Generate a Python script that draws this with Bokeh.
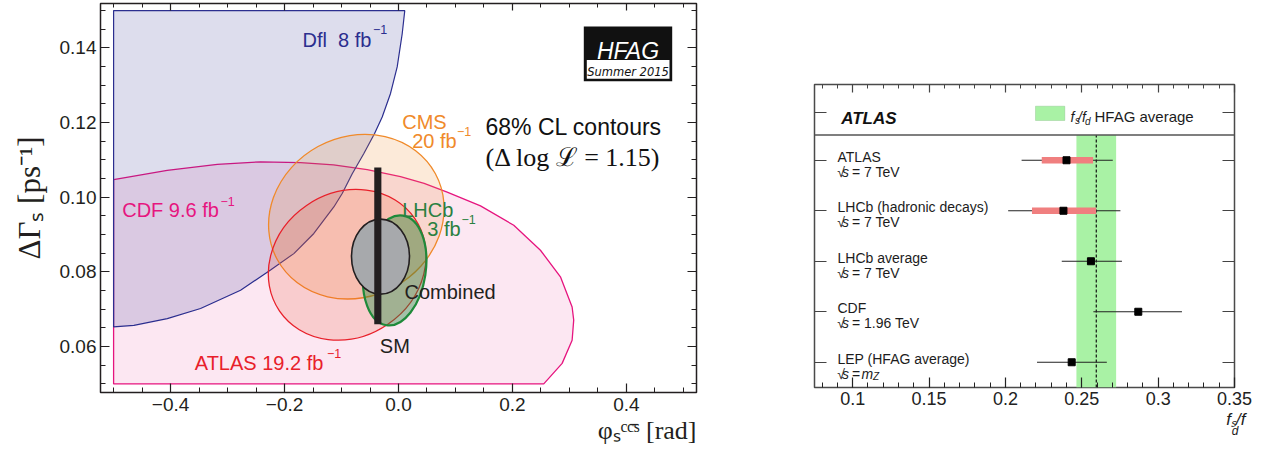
import math
from bokeh.plotting import figure
from bokeh.models import (Range1d, FixedTicker, LinearAxis, Label, BoxAnnotation,
                          Span, ColumnDataSource, Title)
from bokeh.layouts import row
from bokeh.embed import file_html
from bokeh.resources import INLINE

# ===================== LEFT PANEL DATA (68% CL contours) =====================
# Dfl region (boundary)
dfl_phi = [-0.5, 0.011, 0.0065, -0.0023, -0.014, -0.0286, -0.042, -0.0608, -0.0812,
           -0.0988, -0.1135, -0.1486, -0.1837, -0.2246, -0.2772, -0.3474, -0.4058,
           -0.4644, -0.5]
dfl_dgs = [0.150, 0.150, 0.1438, 0.1349, 0.1278, 0.1215, 0.1171, 0.1117, 0.1063,
           0.1010, 0.0974, 0.0903, 0.0849, 0.0805, 0.0751, 0.0702, 0.0675,
           0.0657, 0.0653]
# CDF region
cdf_phi = [-0.5, -0.5, -0.406, -0.318, -0.242, -0.172, -0.114, -0.055, 0.0035, 0.045,
           0.0854, 0.1439, 0.2023, 0.2491, 0.2842, 0.3047, 0.3075, 0.3047, 0.2872, 0.2549]
cdf_dgs = [0.050, 0.1047, 0.1072, 0.1088, 0.1095, 0.1093, 0.1087, 0.1074, 0.1055, 0.1037,
           0.1014, 0.0977, 0.0925, 0.0858, 0.0787, 0.0706, 0.0671, 0.0617, 0.0555, 0.050]
# Elliptical contours: CMS, ATLAS, LHCb, Combined
ell_name = ["CMS", "ATLAS", "LHCb", "Combined"]
ell_phi = [-0.074, -0.090, -0.0067, -0.0316]
ell_dgs = [0.0948, 0.0819, 0.0804, 0.0841]
ell_w = [0.3158, 0.2877, 0.1088, 0.1018]
ell_h = [0.04284, 0.03855, 0.0297, 0.0201]
ell_angle = [0.5, 0.6, -0.15, 0.0]
# Standard Model prediction
sm_phi = [-0.0363]
sm_lo = [0.066]
sm_hi = [0.108]

x_ticks = [-0.4, -0.2, 0.0, 0.2, 0.4]
x_tick_labels = ["\u22120.4", "\u22120.2", "0.0", "0.2", "0.4"]
x_minor = [-0.5, -0.45, -0.4, -0.35, -0.3, -0.25, -0.2, -0.15, -0.1, -0.05, 0.0,
           0.05, 0.1, 0.15, 0.2, 0.25, 0.3, 0.35, 0.4, 0.45, 0.5]
y_ticks = [0.06, 0.08, 0.10, 0.12, 0.14]
y_tick_labels = ["0.06", "0.08", "0.10", "0.12", "0.14"]
y_minor = [0.05, 0.055, 0.06, 0.065, 0.07, 0.075, 0.08, 0.085, 0.09, 0.095, 0.10,
           0.105, 0.11, 0.115, 0.12, 0.125, 0.13, 0.135, 0.14, 0.145, 0.15]
x_title = "\u03c6\u209b\u1d9c\u1d9c\u0304\u02e2 [rad]"
y_title = "\u0394\u0393\u209b [ps\u207b\u00b9]"

# ===================== RIGHT PANEL DATA (fs/fd) =====================
exp_rows = [5, 4, 3, 2, 1]
exp_name = ["ATLAS", "LHCb (hadronic decays)", "LHCb average", "CDF", "LEP (HFAG average)"]
exp_energy = ["= 7 TeV", "= 7 TeV", "= 7 TeV", "= 1.96 TeV", "="]
fsfd_val = [0.240, 0.238, 0.256, 0.287, 0.2434]
fsfd_tot_lo = [0.2106, 0.2018, 0.2369, 0.2576, 0.2207]
fsfd_tot_hi = [0.2703, 0.2753, 0.2763, 0.3156, 0.2664]
band_rows = [5, 4]
fsfd_band_lo = [0.2238, 0.2174]
fsfd_band_hi = [0.2574, 0.2594]
hfag_avg = 0.2595
hfag_err = 0.013

r_x_ticks = [0.1, 0.15, 0.2, 0.25, 0.3, 0.35]
r_x_tick_labels = ["0.1", "0.15", "0.2", "0.25", "0.3", "0.35"]
r_x_minor = [0.08, 0.09, 0.1, 0.11, 0.12, 0.13, 0.14, 0.15, 0.16, 0.17, 0.18, 0.19,
             0.2, 0.21, 0.22, 0.23, 0.24, 0.25, 0.26, 0.27, 0.28, 0.29, 0.3, 0.31,
             0.32, 0.33, 0.34, 0.35]
r_y_ticks = [1, 2, 3, 4, 5, 5.94]

# ===================== geometry helpers (page pixels -> data) =====================
L_X0, L_X1, L_Y0, L_Y1 = -0.523, 0.523, 0.0477, 0.1519
L_LEFT, L_TOP, L_W, L_H = 100, 3, 596, 389
R_X0, R_X1, R_Y0, R_Y1 = 0.075, 0.35, 0.5, 6.5
R_LEFT, R_TOP, R_W, R_H = 814, 84, 420, 303


def lx(px):
    return L_X0 + (px - L_LEFT) * (L_X1 - L_X0) / L_W


def ly(py):
    return L_Y0 + (L_TOP + L_H - py) * (L_Y1 - L_Y0) / L_H


def rx(px):
    return R_X0 + (px - R_LEFT) * (R_X1 - R_X0) / R_W


def ry(py):
    return R_Y0 + (R_TOP + R_H - py) * (R_Y1 - R_Y0) / R_H


def lab(fig, fx, fy, px, py, text, size, color, font="Liberation Sans",
        style="normal", align="left", angle=0.0):
    fig.add_layout(Label(x=fx(px), y=fy(py), text=text, text_font_size=f"{size}px",
                         text_color=color, text_font=font, text_font_style=style,
                         text_align=align, text_baseline="alphabetic", angle=angle))


def style_axis(ax, ticker, overrides, font_size, tick_in, minor_in, standoff, color,
               show_labels=True):
    ax.ticker = ticker
    ax.major_label_overrides = overrides
    ax.major_label_text_font_size = font_size
    ax.major_label_text_font = "Liberation Sans"
    ax.major_label_text_color = color if show_labels else None
    ax.major_label_standoff = standoff
    ax.major_tick_in = tick_in
    ax.major_tick_out = 0
    ax.minor_tick_in = minor_in
    ax.minor_tick_out = 0
    ax.major_tick_line_color = color
    ax.minor_tick_line_color = color
    ax.major_tick_line_width = 1.2
    ax.minor_tick_line_width = 1.0
    ax.axis_line_color = None


# ===================== LEFT FIGURE =====================
p = figure(frame_width=L_W, frame_height=L_H, min_border_left=L_LEFT, min_border_right=64,
           min_border_top=L_TOP, min_border_bottom=61,
           x_range=Range1d(L_X0, L_X1), y_range=Range1d(L_Y0, L_Y1),
           output_backend="svg", toolbar_location=None)
p.frame_align = False
p.xgrid.visible = False
p.ygrid.visible = False
p.outline_line_color = "#231f20"
p.outline_line_width = 1.5
p.border_fill_color = "white"

xt = FixedTicker(ticks=x_ticks, minor_ticks=x_minor)
yt = FixedTicker(ticks=y_ticks, minor_ticks=y_minor)
style_axis(p.xaxis[0], xt, dict(zip(x_ticks, x_tick_labels)), "19px", 9, 5, 5, "#231f20")
style_axis(p.yaxis[0], yt, dict(zip(y_ticks, y_tick_labels)), "19px", 9, 5, 4, "#231f20")
ax_top = LinearAxis()
style_axis(ax_top, xt, {}, "1px", 7, 4, 0, "#231f20", show_labels=False)
ax_right = LinearAxis()
style_axis(ax_right, yt, {}, "1px", 9, 5, 0, "#231f20", show_labels=False)
p.add_layout(ax_top, "above")
p.add_layout(ax_right, "right")

# axis titles (real axis label on the left, right-aligned title under the x axis)
p.yaxis[0].axis_label = y_title
p.yaxis[0].axis_label_text_font = "Liberation Serif"
p.yaxis[0].axis_label_text_font_size = "31px"
p.yaxis[0].axis_label_text_font_style = "normal"
p.yaxis[0].axis_label_text_color = "#231f20"
p.yaxis[0].axis_label_standoff = 10
p.add_layout(Title(text=x_title, align="right", text_font="Liberation Serif",
                   text_font_size="26px", text_font_style="normal",
                   text_color="#231f20", standoff=0), "below")

# regions
p.patch(cdf_phi, cdf_dgs, fill_color="#e6157f", fill_alpha=0.10,
        line_color="#e6157f", line_width=1.3)
p.patch(dfl_phi, dfl_dgs, fill_color="#2b2e8f", fill_alpha=0.16,
        line_color="#2b2e8f", line_width=1.2)
ell_src = ColumnDataSource(dict(
    x=ell_phi, y=ell_dgs, w=ell_w, h=ell_h, a=ell_angle,
    fc=["#f08a2a", "#f04a20", "#1f8a3a", "#a7a9ac"],
    fa=[0.18, 0.17, 0.40, 1.0],
    lc=["#f08a2a", "#e8202a", "#1f8a3a", "#231f20"],
    lw=[1.3, 1.3, 2.2, 1.6],
))
p.ellipse(x="x", y="y", width="w", height="h", angle="a", source=ell_src,
          fill_color="fc", fill_alpha="fa", line_color="lc", line_width="lw")
p.vbar(x=sm_phi, bottom=sm_lo, top=sm_hi, width=0.0125, fill_color="#231f20",
       line_color=None)

# HFAG badge
p.add_layout(BoxAnnotation(left=lx(583.3), right=lx(671.7), top=ly(26), bottom=ly(80.7),
                           fill_color="#111111", fill_alpha=1.0, line_color=None))
p.add_layout(BoxAnnotation(left=lx(586.3), right=lx(669), top=ly(59.5), bottom=ly(78.2),
                           fill_color="white", fill_alpha=1.0, line_color=None))
lab(p, lx, ly, 627.5, 50, "HFAG", 23, "white", style="italic", align="center")
lab(p, lx, ly, 627.5, 71.5, "Summer 2015", 11.5, "#111111", font="DejaVu Sans",
    style="italic", align="center")

# region labels
NB = "\u00a0"
lab(p, lx, ly, 302, 39.3, "Dfl" + NB + NB + "8" + NB + "fb", 20, "#2b2e8f")
lab(p, lx, ly, 372.5, 28.5, "\u22121", 12.5, "#2b2e8f")
lab(p, lx, ly, 121.7, 209.3, "CDF 9.6 fb", 20, "#e6157f")
lab(p, lx, ly, 220, 200.5, "\u22121", 12.5, "#e6157f")
lab(p, lx, ly, 194.3, 362.7, "ATLAS 19.2 fb", 20, "#e8202a")
lab(p, lx, ly, 326.5, 353, "\u22121", 12.5, "#e8202a")
lab(p, lx, ly, 379.3, 345.7, "SM", 20, "#231f20")
lab(p, lx, ly, 401.7, 121.7, "CMS", 20, "#f08a2a")
lab(p, lx, ly, 411.7, 140.7, "20 fb", 20, "#f08a2a")
lab(p, lx, ly, 456.5, 130.5, "\u22121", 12.5, "#f08a2a")
lab(p, lx, ly, 401.7, 209.3, "LHCb", 20, "#2a8040")
lab(p, lx, ly, 426.7, 228.3, "3 fb", 20, "#2a8040")
lab(p, lx, ly, 461, 219, "\u22121", 12.5, "#2a8040")
lab(p, lx, ly, 404, 291.7, "Combined", 20, "#231f20")
lab(p, lx, ly, 485, 126, "68% CL contours", 23, "#111111")
lab(p, lx, ly, 485, 156.7, "(\u0394 log \u2112 = 1.15)", 26, "#111111",
    font="Liberation Serif")

# ===================== RIGHT FIGURE =====================
q = figure(frame_width=R_W, frame_height=R_H, min_border_left=R_LEFT - 760,
           min_border_right=1270 - R_LEFT - R_W, min_border_top=R_TOP,
           min_border_bottom=453 - R_TOP - R_H,
           x_range=Range1d(R_X0, R_X1), y_range=Range1d(R_Y0, R_Y1),
           output_backend="svg", toolbar_location=None)
q.frame_align = False
q.xgrid.visible = False
q.ygrid.visible = False
q.outline_line_color = "#4a4a4a"
q.outline_line_width = 1.5
q.border_fill_color = "white"

rxt = FixedTicker(ticks=r_x_ticks, minor_ticks=r_x_minor)
ryt = FixedTicker(ticks=r_y_ticks, minor_ticks=[])
style_axis(q.xaxis[0], rxt, dict(zip(r_x_ticks, r_x_tick_labels)), "18px", 10, 5, 4, "#222222")
style_axis(q.yaxis[0], ryt, {}, "1px", 12, 0, 0, "#444444", show_labels=False)
q.yaxis[0].minor_tick_line_color = None
rax_top = LinearAxis()
style_axis(rax_top, rxt, {}, "1px", 8, 4, 0, "#444444", show_labels=False)
rax_right = LinearAxis()
style_axis(rax_right, ryt, {}, "1px", 12, 0, 0, "#444444", show_labels=False)
rax_right.minor_tick_line_color = None
q.add_layout(rax_top, "above")
q.add_layout(rax_right, "right")

# HFAG average band and central value
q.quad(left=[hfag_avg - hfag_err], right=[hfag_avg + hfag_err], bottom=[R_Y0], top=[5.5],
       fill_color="#a9f2a5", line_color=None)
q.segment(x0=[hfag_avg], y0=[R_Y0], x1=[hfag_avg], y1=[5.5], line_color="#111111",
          line_width=1.2, line_dash="3 2")
q.add_layout(Span(location=5.5, dimension="width", line_color="#555555", line_width=1.6))

# measurements
q.segment(x0=fsfd_tot_lo, y0=exp_rows, x1=fsfd_tot_hi, y1=exp_rows, line_color="#222222",
          line_width=1.2)
q.segment(x0=fsfd_band_lo, y0=band_rows, x1=fsfd_band_hi, y1=band_rows,
          line_color="#f07f7f", line_width=6.5, line_cap="butt")
q.scatter(x=fsfd_val, y=exp_rows, marker="square", size=7, fill_color="black",
          line_color="black")

# row labels
TXT = "#1c1c1c"
for yrow, name, en in zip(exp_rows, exp_name, exp_energy):
    pyc = R_TOP + (R_Y1 - yrow) * R_H / (R_Y1 - R_Y0)
    lab(q, rx, ry, 837, pyc - 3.5, name, 14, TXT)
    lab(q, rx, ry, 836.7, pyc + 11.5, "\u221a", 14, TXT)
    lab(q, rx, ry, 841.5, pyc + 11.5, "s", 14, TXT, style="italic")
    lab(q, rx, ry, 851.5, pyc + 11.5, en, 14, TXT)
    if en == "=":
        lab(q, rx, ry, 861, pyc + 11.5, "m", 14, TXT, style="italic")
        lab(q, rx, ry, 872.5, pyc + 14.5, "Z", 10, TXT, style="italic")

# header
lab(q, rx, ry, 840.7, 118.3, "ATLAS", 17, "#111111", style="bold italic")
q.add_layout(BoxAnnotation(left=rx(1035), right=rx(1064.3), top=ry(105.7), bottom=ry(120),
                           fill_color="#a9f2a5", fill_alpha=1.0, line_color="#6fae6f",
                           line_width=1))
lab(q, rx, ry, 1070, 116, "f", 14, TXT, style="italic")
lab(q, rx, ry, 1074.5, 119.5, "s", 10, TXT, style="italic")
lab(q, rx, ry, 1077.5, 116, "/f", 14, TXT, style="italic")
lab(q, rx, ry, 1084.5, 121, "d", 10, TXT, style="italic")
lab(q, rx, ry, 1094, 115.7, "HFAG average", 15, TXT)

# x-axis title f_s/f_d : "f_s/f" then a lowered "d" (two titles under the axis)
q.add_layout(Title(text="f\u209b/f", align="right", text_font="Liberation Sans",
                   text_font_size="17px", text_font_style="italic", text_color=TXT,
                   standoff=0, offset=-11), "below")
q.add_layout(Title(text="d", align="right", text_font="Liberation Sans",
                   text_font_size="12px", text_font_style="italic", text_color=TXT,
                   standoff=-14, offset=-4), "below")

layout = row(p, q)
open("out.html", "w").write(file_html(layout, INLINE))
